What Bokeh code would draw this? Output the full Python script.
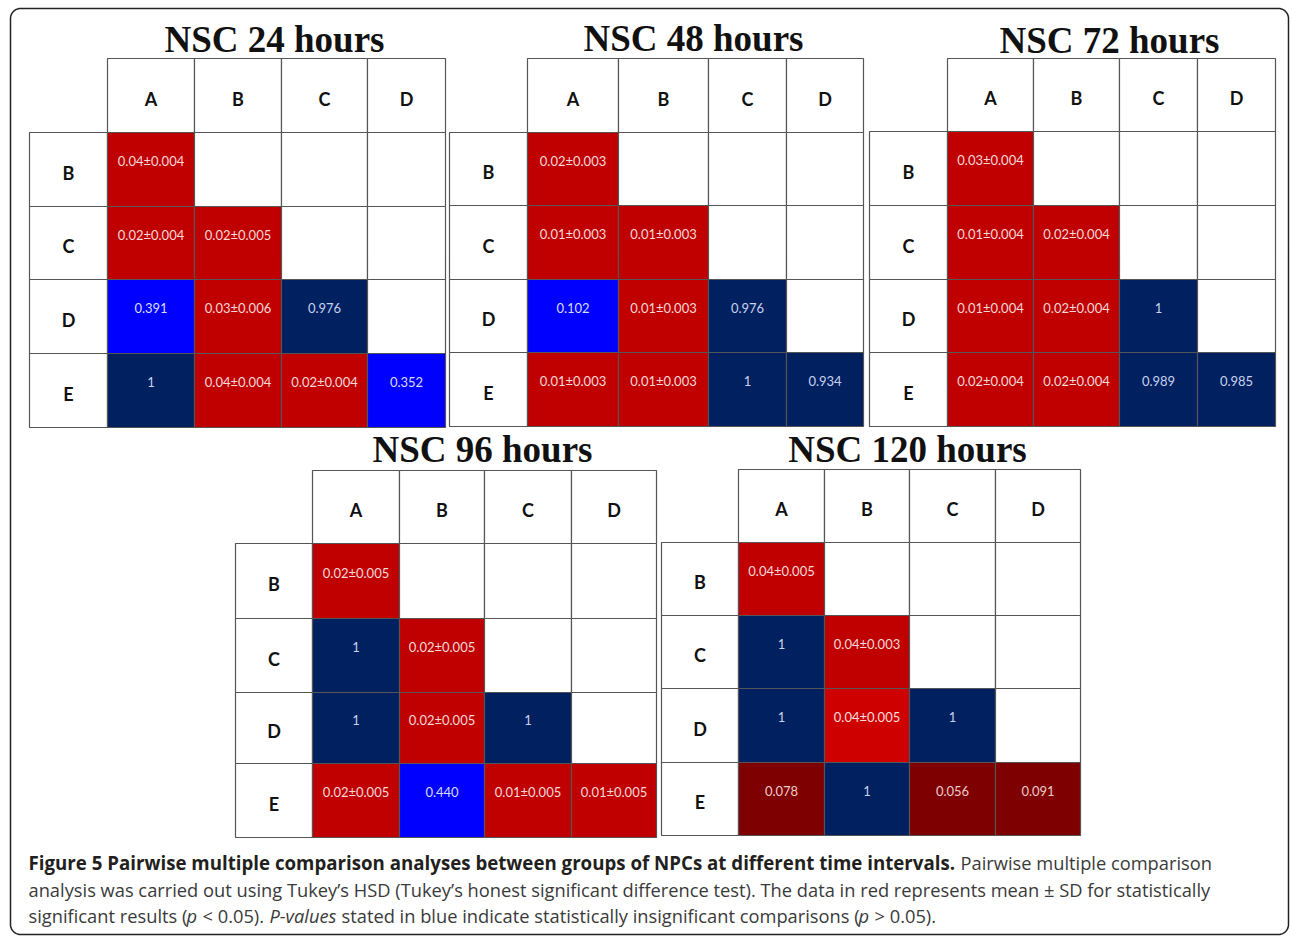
import numpy as np
from bokeh.plotting import figure
from bokeh.models import ColumnDataSource, Range1d
from bokeh.core.properties import value
from bokeh.embed import file_html
from bokeh.resources import INLINE

# ---------------- data ----------------
titles = ["NSC 24 hours", "NSC 48 hours", "NSC 72 hours", "NSC 96 hours", "NSC 120 hours"]
col_labels = ["A", "B", "C", "D"]
row_labels = ["B", "C", "D", "E"]

# lower-triangle cells, row by row: B(A) ; C(A,B) ; D(A,B,C) ; E(A,B,C,D)
vals_24 = ["0.04±0.004", "0.02±0.004", "0.02±0.005", "0.391", "0.03±0.006", "0.976",
           "1", "0.04±0.004", "0.02±0.004", "0.352"]
cls_24 = ["sig", "sig", "sig", "nsb", "sig", "ns", "ns", "sig", "sig", "nsb"]

vals_48 = ["0.02±0.003", "0.01±0.003", "0.01±0.003", "0.102", "0.01±0.003", "0.976",
           "0.01±0.003", "0.01±0.003", "1", "0.934"]
cls_48 = ["sig", "sig", "sig", "nsb", "sig", "ns", "sig", "sig", "ns", "ns"]

vals_72 = ["0.03±0.004", "0.01±0.004", "0.02±0.004", "0.01±0.004", "0.02±0.004", "1",
           "0.02±0.004", "0.02±0.004", "0.989", "0.985"]
cls_72 = ["sig", "sig", "sig", "sig", "sig", "ns", "sig", "sig", "ns", "ns"]

vals_96 = ["0.02±0.005", "1", "0.02±0.005", "1", "0.02±0.005", "1",
           "0.02±0.005", "0.440", "0.01±0.005", "0.01±0.005"]
cls_96 = ["sig", "ns", "sig", "ns", "sig", "ns", "sig", "nsb", "sig", "sig"]

vals_120 = ["0.04±0.005", "1", "0.04±0.003", "1", "0.04±0.005", "1",
            "0.078", "1", "0.056", "0.091"]
cls_120 = ["sig", "ns", "sig", "ns", "sig2", "ns", "marg", "ns", "marg", "marg"]

all_vals = [vals_24, vals_48, vals_72, vals_96, vals_120]
all_cls = [cls_24, cls_48, cls_72, cls_96, cls_120]

caption_bold = "Figure 5 Pairwise multiple comparison analyses between groups of NPCs at different time intervals."
caption_l1 = "Pairwise multiple comparison"
caption_l2 = ("analysis was carried out using Tukey\u2019s HSD (Tukey\u2019s honest significant difference test). "
              "The data in red represents mean \u00b1 SD for statistically")
caption_l3 = [("significant results (", "normal"), ("p", "italic"), ("< 0.05).", "normal"),
              ("P-values", "italic"),
              ("stated in blue indicate statistically insignificant comparisons (", "normal"),
              ("p", "italic"), ("> 0.05).", "normal")]

# ---------------- styles / layout ----------------
fill = {"sig": "#c00000", "sig2": "#cf0000", "ns": "#002060", "nsb": "#0000ff", "marg": "#7f0000"}
tcol = {"sig": "#f4d9d9", "sig2": "#f6dede", "ns": "#c8d2ee", "nsb": "#d8ddff", "marg": "#edcccc"}

# column edges (label column first) and row edges (header row first), in page pixels
xedges = [[29, 107, 194, 281, 367, 445],
          [449, 527, 618, 708, 786, 863],
          [869, 947, 1033, 1119, 1197, 1275],
          [235, 312, 399, 484, 571, 656],
          [661, 738, 824, 909, 995, 1080]]
yedges = [[58, 132, 206, 279, 353, 427],
          [58, 132, 205, 279, 352, 426],
          [58, 131, 205, 279, 352, 426],
          [470, 543, 618, 692, 763, 837],
          [469, 542, 615, 688, 762, 835]]
title_mid = [39, 38, 40, 449, 449]

W, H = 1290, 936
p = figure(width=W, height=H, x_range=Range1d(0, W), y_range=Range1d(H, 0),
           output_backend="svg", toolbar_location=None, min_border=0,
           x_axis_location=None, y_axis_location=None)
p.grid.visible = False
p.outline_line_color = None
p.background_fill_color = "white"
p.border_fill_color = "white"

# rounded frame
x0, x1, y0, y1, r = 10, 1288, 8, 934, 10
th = np.linspace(0, np.pi / 2, 12)
fx, fy = [], []
for cx, cy, a0 in [(x1 - r, y0 + r, -np.pi / 2), (x1 - r, y1 - r, 0.0),
                   (x0 + r, y1 - r, np.pi / 2), (x0 + r, y0 + r, np.pi)]:
    fx += list(cx + r * np.cos(a0 + th))
    fy += list(cy + r * np.sin(a0 + th))
fx.append(fx[0]); fy.append(fy[0])
p.line(fx, fy, line_color="#222222", line_width=1.5)

cells = dict(l=[], r=[], t=[], b=[], fill=[])
vtext = dict(x=[], y=[], t=[], c=[])
htext = dict(x=[], y=[], t=[])
ttext = dict(x=[], y=[], t=[])

for k in range(5):
    xe, ye = xedges[k], yedges[k]
    for j, lab in enumerate(col_labels):
        cells["l"].append(xe[j + 1]); cells["r"].append(xe[j + 2])
        cells["t"].append(ye[0]); cells["b"].append(ye[1]); cells["fill"].append("white")
        htext["x"].append((xe[j + 1] + xe[j + 2]) / 2); htext["y"].append((ye[0] + ye[1]) / 2 + 3)
        htext["t"].append(lab)
    for i, lab in enumerate(row_labels):
        cells["l"].append(xe[0]); cells["r"].append(xe[1])
        cells["t"].append(ye[i + 1]); cells["b"].append(ye[i + 2]); cells["fill"].append("white")
        htext["x"].append((xe[0] + xe[1]) / 2); htext["y"].append((ye[i + 1] + ye[i + 2]) / 2 + 3)
        htext["t"].append(lab)
    n = 0
    for i in range(4):
        for j in range(4):
            l, rr = xe[j + 1], xe[j + 2]
            t, b = ye[i + 1], ye[i + 2]
            cells["l"].append(l); cells["r"].append(rr); cells["t"].append(t); cells["b"].append(b)
            if j <= i:
                c = all_cls[k][n]
                cells["fill"].append(fill[c])
                vtext["x"].append((l + rr) / 2); vtext["y"].append(t + 0.39 * (b - t))
                vtext["t"].append(all_vals[k][n]); vtext["c"].append(tcol[c])
                n += 1
            else:
                cells["fill"].append("white")
    ttext["x"].append((xe[1] + xe[5]) / 2 - 2); ttext["y"].append(title_mid[k]); ttext["t"].append(titles[k])

p.quad(left="l", right="r", top="t", bottom="b", fill_color="fill", source=ColumnDataSource(cells),
       line_color="#555555", line_width=1.2)
p.text(x="x", y="y", text="t", text_color="c", source=ColumnDataSource(vtext),
       text_font=value("Lato"), text_font_size="13px", text_align="center", text_baseline="middle")
p.text(x="x", y="y", text="t", source=ColumnDataSource(htext), text_color="#111111",
       text_font=value("Lato"), text_font_style="bold", text_font_size="18px",
       text_align="center", text_baseline="middle")
p.text(x="x", y="y", text="t", source=ColumnDataSource(ttext), text_color="#111111",
       text_font=value("Liberation Serif"), text_font_style="bold", text_font_size="37px",
       text_align="center", text_baseline="middle")

# caption
cap_font = value("Open Sans")
p.text(x=[28], y=[862], text=[caption_bold], text_font=cap_font, text_font_style="bold",
       text_font_size="18.7px", text_color="#231f20", text_baseline="middle")
p.text(x=[960], y=[862], text=[caption_l1], text_font=cap_font, text_font_size="18.3px",
       text_color="#3a3a3a", text_baseline="middle")
p.text(x=[28], y=[889], text=[caption_l2], text_font=cap_font, text_font_size="18.3px",
       text_color="#3a3a3a", text_baseline="middle")
seg_x = [28, 186, 202, 269, 341, 858, 874]
for (s, st), sx in zip(caption_l3, seg_x):
    p.text(x=[sx], y=[915], text=[s], text_font=cap_font, text_font_style=st,
           text_font_size="18.3px", text_color="#3a3a3a", text_baseline="middle")

open("out.html", "w").write(file_html(p, INLINE))
